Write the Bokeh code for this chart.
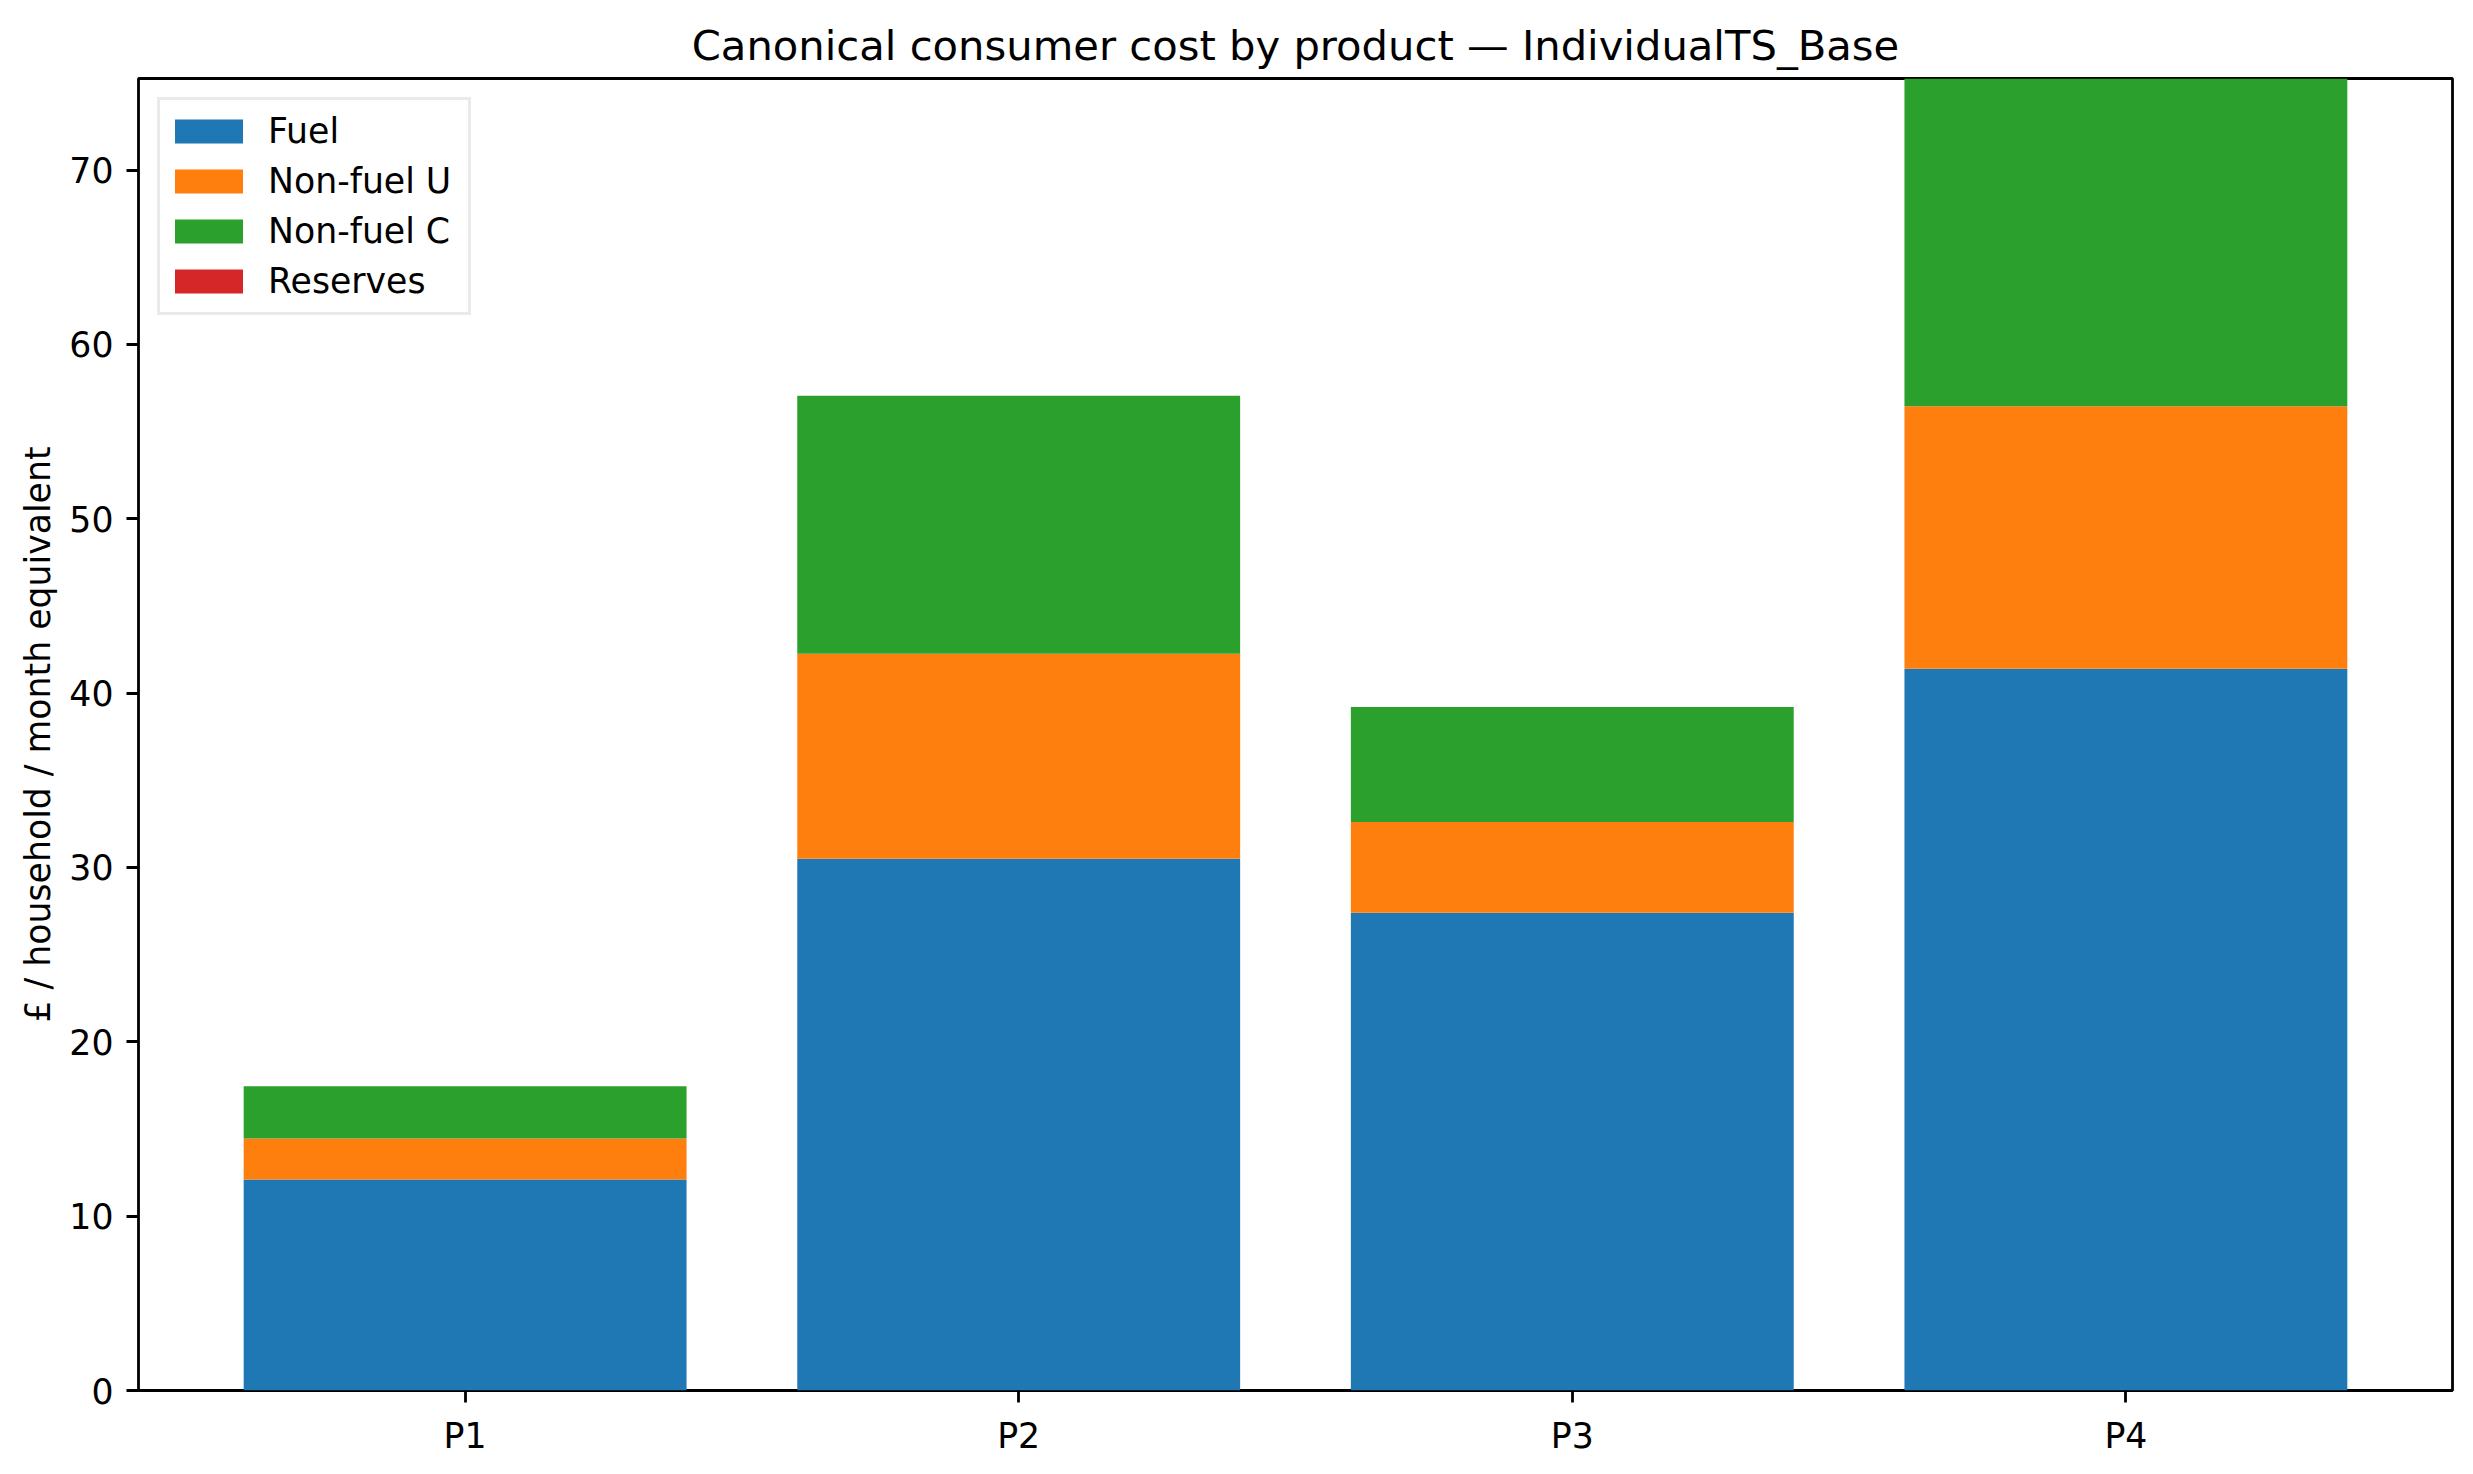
from bokeh.plotting import figure
from bokeh.models import ColumnDataSource, FactorRange, Range1d, FixedTicker
from bokeh.embed import file_html
from bokeh.resources import INLINE

products = ["P1", "P2", "P3", "P4"]
components = ["Fuel", "Non-fuel U", "Non-fuel C", "Reserves"]
fuel = [12.1, 30.5, 27.4, 41.4]
nonfuel_u = [2.35, 11.75, 5.2, 15.05]
nonfuel_c = [3.0, 14.8, 6.6, 18.8]
reserves = [0.0, 0.0, 0.0, 0.0]
y_ticks = [0, 10, 20, 30, 40, 50, 60, 70]
colors = ["#1f77b4", "#ff7f0e", "#2ca02c", "#d62728"]

FONT = "DejaVu Sans"

keys = ["fuel", "nfu", "nfc", "res"]
source = ColumnDataSource(data=dict(product=products, fuel=fuel, nfu=nonfuel_u,
                                    nfc=nonfuel_c, res=reserves))
totals = [a + b + c + d for a, b, c, d in zip(fuel, nonfuel_u, nonfuel_c, reserves)]

p = figure(width=2457, height=1458, output_backend="svg", toolbar_location=None,
           x_range=FactorRange(factors=products, range_padding=0.045, range_padding_units="percent"),
           y_range=Range1d(0, max(totals)),
           min_border_left=138, min_border_right=5, min_border_top=78, min_border_bottom=66,
           title="Canonical consumer cost by product — IndividualTS_Base")

p.vbar_stack(keys, x="product", width=0.8, color=colors, line_color=None,
             source=source, legend_label=components)

p.title.text_font = FONT
p.title.text_font_size = "41.7px"
p.title.text_font_style = "normal"
p.title.align = "center"
p.title.text_color = "black"
p.title.standoff = 18

p.grid.visible = False
p.outline_line_color = "black"
p.outline_line_width = 2.8
p.background_fill_color = "white"
p.border_fill_color = "white"

for ax in (p.xaxis[0], p.yaxis[0]):
    ax.axis_line_color = None
    ax.major_tick_out = 12
    ax.major_tick_in = 0
    ax.major_tick_line_width = 2.8
    ax.major_tick_line_color = "black"
    ax.minor_tick_line_color = None
    ax.major_label_text_font = FONT
    ax.major_label_text_font_size = "34.7px"
    ax.major_label_text_color = "black"
    ax.major_label_standoff = 13

p.yaxis.ticker = FixedTicker(ticks=y_ticks)
p.yaxis.axis_label = "£ / household / month equivalent"
p.yaxis.axis_label_text_font = FONT
p.yaxis.axis_label_text_font_size = "34.7px"
p.yaxis.axis_label_text_font_style = "normal"
p.yaxis.axis_label_text_color = "black"
p.yaxis.axis_label_standoff = 8

lg = p.legend[0]
lg.location = "top_left"
lg.margin = 19
lg.padding = 6
lg.spacing = 0
lg.label_height = 50
lg.label_width = 194
lg.glyph_height = 30
lg.glyph_width = 85
lg.label_standoff = 17
lg.label_text_font = FONT
lg.label_text_font_size = "34.7px"
lg.label_text_color = "black"
lg.border_line_color = "#d5d5d5"
lg.border_line_width = 3.5
lg.background_fill_color = "white"
lg.background_fill_alpha = 0.8

open("out.html", "w").write(file_html(p, INLINE))
